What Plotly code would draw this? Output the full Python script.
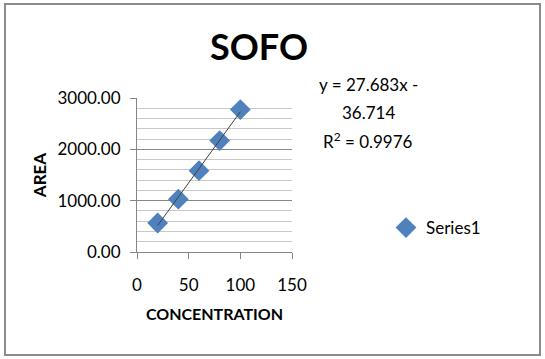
import numpy as np
import plotly.graph_objects as go

# Data
concentration = [20, 40, 60, 80, 100]
area = [565, 1030, 1585, 2170, 2775]
slope = 27.683
intercept = -36.714
r_squared = 0.9976
x_ticks = [0, 50, 100, 150]
y_ticks = [0, 1000, 2000, 3000]

trend_x = np.array([min(concentration), max(concentration)])
trend_y = slope * trend_x + intercept

FONT = "Lato"
W, H = 545, 359
L, R, T, B = 137, 253, 98, 107
pw, ph = W - L - R, H - T - B

def px_x(p):
    return (p - L) / pw

def px_y(p):
    return (H - B - p) / ph

fig = go.Figure()
fig.add_trace(go.Scatter(
    x=concentration, y=area, mode="markers", name="Series1",
    marker=dict(symbol="diamond", size=16, color="#4F81BD",
                line=dict(width=0)),
))
fig.add_trace(go.Scatter(
    x=trend_x, y=trend_y, mode="lines", showlegend=False,
    line=dict(color="#404040", width=1), hoverinfo="skip",
))

fig.update_layout(
    width=W, height=H,
    margin=dict(l=L, r=R, t=T, b=B),
    paper_bgcolor="white", plot_bgcolor="white",
    font=dict(family=FONT, color="#000000", size=16),
    title=dict(text="<b>SOFO</b>", xref="container", x=259 / W,
               xanchor="center", yref="container",
               y=1 - 47 / H, yanchor="middle",
               font=dict(family=FONT, size=36, color="#000000")),
    showlegend=True,
    legend=dict(x=px_x(386), xanchor="left", y=px_y(228), yanchor="middle",
                font=dict(family=FONT, size=17), bgcolor="rgba(0,0,0,0)"),
    xaxis=dict(
        range=[0, 150], tickvals=x_ticks, ticktext=[str(v) for v in x_ticks],
        showgrid=False, zeroline=False, showline=True, linecolor="#868686",
        linewidth=1, ticks="outside", ticklen=6, tickcolor="#868686",
        ticklabelstandoff=12,
        tickfont=dict(family=FONT, size=17),
        title=dict(text="<b>CONCENTRATION</b>", standoff=14,
                   font=dict(family=FONT, size=16)),
    ),
    yaxis=dict(
        range=[0, 3000], tickvals=y_ticks,
        ticktext=[f"{v:.2f}" for v in y_ticks],
        showgrid=True, gridcolor="#868686", gridwidth=1,
        minor=dict(dtick=200, showgrid=True, gridcolor="#C8C8C8", gridwidth=1),
        zeroline=False, showline=True, linecolor="#868686", linewidth=1,
        ticks="outside", ticklen=6, tickcolor="#868686",
        ticklabelstandoff=6,
        tickfont=dict(family=FONT, size=17),
        title=dict(text="<b>AREA</b>", standoff=6,
                   font=dict(family=FONT, size=17)),
    ),
)

eq_lines = [
    f"y = {slope}x -",
    f"{abs(intercept)}",
    f"R<sup>2</sup> = {r_squared}",
]
for txt, py in zip(eq_lines, [85, 112, 140]):
    fig.add_annotation(text=txt, xref="paper", yref="paper",
                       x=px_x(368), y=px_y(py), xanchor="center",
                       yanchor="middle", showarrow=False,
                       font=dict(family=FONT, size=17, color="#000000"))

fig.add_shape(type="rect", xref="paper", yref="paper",
              x0=px_x(5), x1=px_x(540), y0=px_y(355), y1=px_y(4),
              line=dict(color="#8C8C8C", width=2), fillcolor="rgba(0,0,0,0)")

fig.write_html("out.html")
